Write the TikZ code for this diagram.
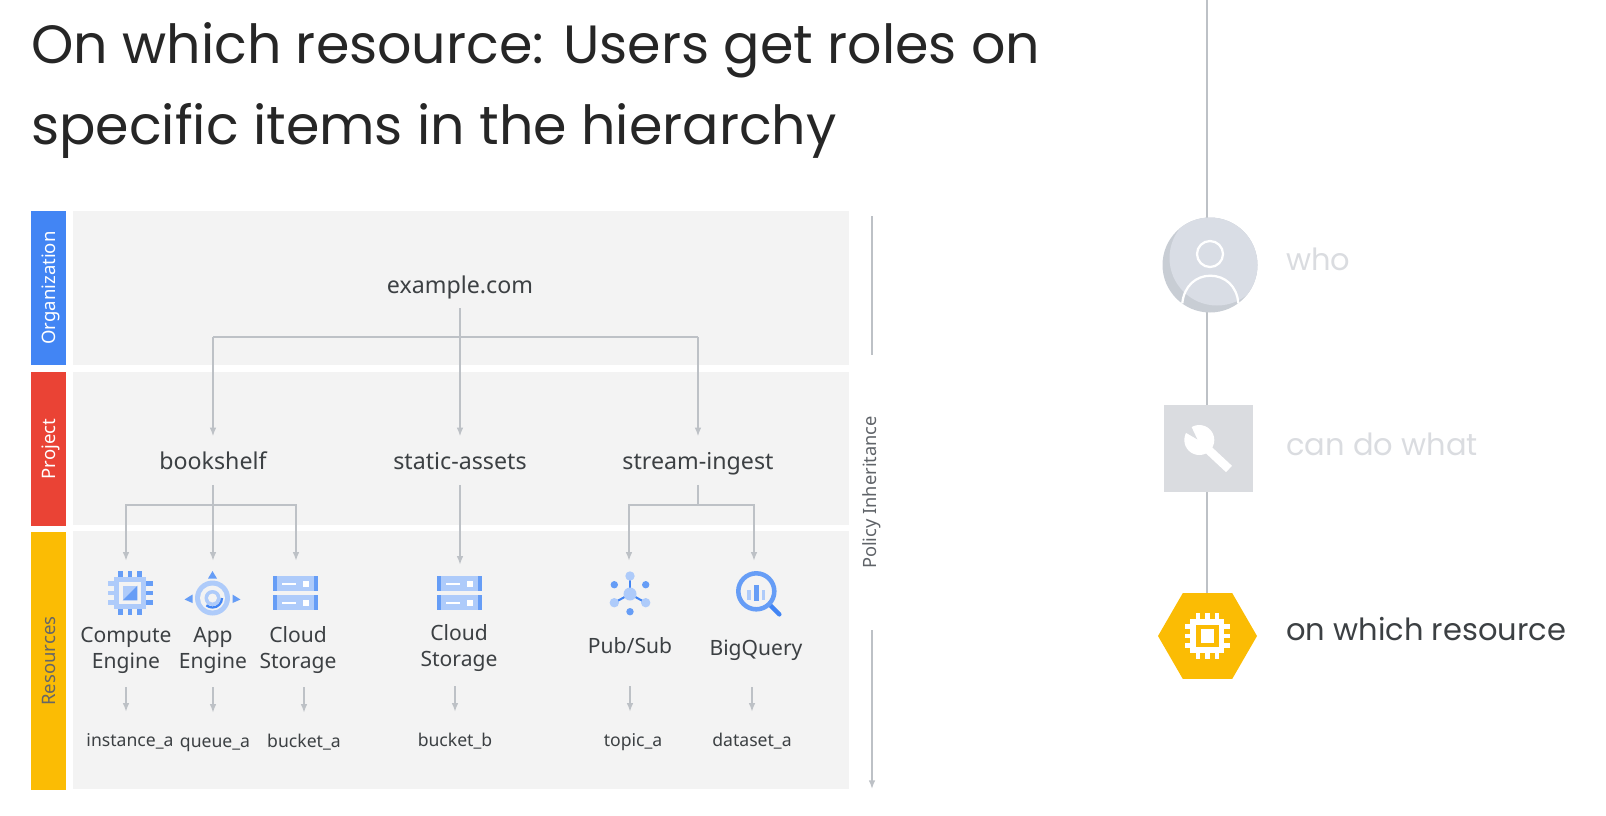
\documentclass[tikz,border=0pt]{standalone}
\usepackage{fontspec}
\setmainfont{Noto Sans}
\newfontfamily\headfont{Poppins}
\usetikzlibrary{arrows.meta,shapes.geometric}
\definecolor{linegray}{HTML}{BDC1C6}
\definecolor{panelgray}{HTML}{F3F3F3}
\definecolor{inkgray}{HTML}{3C4043}
\definecolor{softgray}{HTML}{5F6368}
\definecolor{fadegray}{HTML}{DADCE0}
\definecolor{whofill}{HTML}{D9DDE5}
\definecolor{whoshade}{HTML}{C8CDD4}
\definecolor{gblue}{HTML}{4285F4}
\definecolor{gred}{HTML}{EA4335}
\definecolor{gyellow}{HTML}{FBBC04}
\definecolor{iconlight}{HTML}{AECBFA}
\definecolor{iconmid}{HTML}{669DF6}
\newlength{\px}
\setlength{\px}{0.75pt}
\tikzset{
  band/.style={minimum width=154\px, minimum height=35\px, inner sep=0pt, rotate=90, text=white,
    text height=10pt, text depth=0pt, font=\fontsize{13.9}{17}\selectfont},
  panel/.style={fill=panelgray, minimum width=776\px, inner sep=0pt},
  flow/.style={draw=linegray, line width=1.1pt, -{Latex[length=6.5pt,width=5pt]}},
  rail/.style={draw=linegray, line width=1.1pt},
  projlabel/.style={inner sep=0pt, minimum height=48\px, text height=13pt, text depth=0pt, text=inkgray,
    font=\fontsize{17.4}{20}\selectfont},
  svclabel/.style={inner sep=0pt, minimum height=74\px, align=center, text=inkgray,
    font=\fontsize{15.8}{19.5}\selectfont},
  reslabel/.style={inner sep=0pt, minimum height=56\px, text height=10pt, text depth=0pt, text=inkgray,
    font=\fontsize{13.2}{15}\selectfont},
  iconbox/.style={inner sep=0pt, minimum width=56\px, minimum height=64\px},
  whatlabel/.style={anchor=west, inner sep=0pt, font=\headfont\fontsize{22.9}{28}\selectfont},
}
\newcommand{\storageicon}[2]{
  \begin{scope}[shift={(#1,#2)}]
    \foreach \rowy in {-17,2} {
      \fill[iconlight] (-23,\rowy) rectangle (22,\rowy+15);
      \fill[iconmid] (-23,\rowy) rectangle (-18.5,\rowy+15);
      \fill[iconmid] (18,\rowy) rectangle (22,\rowy+15);
      \fill[white] (-14,\rowy+6.5) rectangle (0,\rowy+8.5);
      \fill[white] (7,\rowy+4.5) rectangle (13.5,\rowy+11);
    }
  \end{scope}
}
\begin{document}
\begin{tikzpicture}[x=0.75pt, y=-0.75pt]
  \useasboundingbox (0,0) rectangle (1606,815);
  \node[anchor=west, inner sep=0pt, align=left, text=black!85, font=\headfont\fontsize{40.4}{60.75}\selectfont] (title) at (31,90)
    {On which resource: Users get roles on\\specific items in the hierarchy};

  % bands and panels
  \node[band, fill=gblue] (orgband) at (48.5,288) {Organization};
  \node[band, fill=gred] (projband) at (48.5,449) {Project};
  \node[band, fill=gyellow, minimum width=258\px, text=black!60] (resband) at (48.5,661) {Resources};
  \node[panel, minimum height=154\px] (orgpanel) at (461,288) {};
  \node[panel, minimum height=153\px] (projpanel) at (461,448.5) {};
  \node[panel, minimum height=258\px] (respanel) at (461,660) {};

  % tree labels
  \node[projlabel, minimum height=46\px] (example) at (460,285) {example.com};
  \node[projlabel] (bookshelf) at (213,460.5) {bookshelf};
  \node[projlabel] (static) at (460,460.5) {static-assets};
  \node[projlabel] (stream) at (698,460.5) {stream-ingest};
  \coordinate (orgbus) at (460,337);
  \coordinate (bookbus) at (213,505);
  \coordinate (streambus) at (698,505);

  \node[iconbox] (compute) at (126,593) {};
  \node[iconbox] (appengine) at (213,593) {};
  \node[iconbox] (storagea) at (296,593) {};
  \node[iconbox, minimum height=56\px] (storageb) at (460,593) {};
  \node[iconbox] (pubsub) at (629,593) {};
  \node[iconbox] (bigquery) at (754,593) {};

  \node[svclabel] (computetxt) at (126,650) {Compute\\Engine};
  \node[svclabel] (apptxt) at (213,650) {App\\Engine};
  \node[svclabel] (storagetxta) at (298,650) {Cloud\\Storage};
  \node[svclabel, minimum height=76\px] (storagetxtb) at (459,648) {Cloud\\Storage};
  \node[svclabel, minimum height=80\px] (pubsubtxt) at (630,646) {Pub/Sub};
  \node[svclabel] (bigquerytxt) at (756,650) {BigQuery};

  \node[reslabel] (instance) at (130,740) {instance\_a};
  \node[reslabel] (queue) at (215,741) {queue\_a};
  \node[reslabel] (bucketa) at (304,741) {bucket\_a};
  \node[reslabel] (bucketb) at (455,740) {bucket\_b};
  \node[reslabel] (topic) at (633,740) {topic\_a};
  \node[reslabel] (dataset) at (752,740) {dataset\_a};

  % hierarchy connectors
  \draw[rail] (example) -- (orgbus);
  \draw[rail] (orgbus) -- (orgbus -| stream);
  \draw[rail] (orgbus) -- (orgbus -| bookshelf);
  \draw[flow] (orgbus -| bookshelf) -- (bookshelf);
  \draw[flow] (orgbus) -- (static);
  \draw[flow] (orgbus -| stream) -- (stream);
  \draw[rail] (bookshelf) -- (bookbus);
  \draw[flow] (bookbus) -| (compute);
  \draw[flow] (bookbus) -- (appengine);
  \draw[flow] (bookbus) -| (storagea);
  \draw[flow] (static) -- (storageb);
  \draw[rail] (stream) -- (streambus);
  \draw[flow] (streambus) -| (pubsub);
  \draw[flow] (streambus) -| (bigquery);
  \draw[flow] (computetxt.south) -- (computetxt.south |- instance.north);
  \draw[flow] (apptxt.south) -- (apptxt.south |- queue.north);
  \draw[flow] (storagetxta.south -| bucketa) -- (bucketa.north);
  \draw[flow] (storagetxtb.south -| bucketb) -- (bucketb.north);
  \draw[flow] (pubsubtxt.south) -- (pubsubtxt.south |- topic.north);
  \draw[flow] (bigquerytxt.south -| dataset) -- (dataset.north);

  % compute engine icon
  \begin{scope}[shift={(130,593)}]
    \foreach \pin in {-9.5,0,9.5} {
      \fill[iconmid] (\pin-2.2,-22.5) rectangle (\pin+2.2,22);
      \fill[iconlight] (-22.5,\pin-2.2) rectangle (0,\pin+2.2);
      \fill[iconmid] (0,\pin-2.2) rectangle (22.5,\pin+2.2);
    }
    \fill[iconlight] (-16,-16) rectangle (16,16);
    \fill[panelgray] (-11.3,-11.3) rectangle (11.3,11.3);
    \fill[iconlight] (-7.3,-7.3) rectangle (7.3,7.3);
    \fill[iconmid] (7.3,-7.3) -- (7.3,7.3) -- (-7.3,7.3) -- cycle;
  \end{scope}

  % app engine icon
  \begin{scope}[shift={(212.5,598)}]
    \fill[iconlight] (0,0) circle (17.5);
    \fill[panelgray] (0,0) circle (12.5);
    \fill[iconlight] (0,0) circle (8);
    \fill[panelgray] (0,0) circle (4.5);
    \draw[gblue, line width=1.7pt] (9.5,0) arc (0:130:9.5);
    \fill[iconmid] (0,-27) -- (4.5,-19.5) -- (-4.5,-19.5) -- cycle;
    \fill[iconmid] (-28,1.5) -- (-20,-3.5) -- (-20,5) -- cycle;
    \fill[iconmid] (28,1.5) -- (20,-3.5) -- (20,5) -- cycle;
  \end{scope}

  \storageicon{295.5}{593}
  \storageicon{459.5}{593}

  % pub/sub icon
  \begin{scope}[shift={(630,594)}]
    \draw[gblue, line width=1.5pt] (0,0) -- (0,-18);
    \draw[gblue, line width=1.5pt] (0,0) -- (-15.7,8.7);
    \draw[gblue, line width=1.5pt] (0,0) -- (15.7,8.7);
    \fill[iconlight] (0,0) circle (6.5);
    \fill[iconlight] (0,-18) circle (4.7);
    \fill[iconlight] (-15.7,8.7) circle (4.7);
    \fill[iconlight] (15.7,8.7) circle (4.7);
    \fill[iconmid] (-15.7,-9.3) circle (3.7);
    \fill[iconmid] (15.7,-9.3) circle (3.7);
    \fill[iconmid] (0,17.7) circle (3.7);
  \end{scope}

  % bigquery icon
  \begin{scope}[shift={(756.3,591.3)}]
    \draw[gblue, line width=3.4pt, line cap=round] (13,13) -- (23,23);
    \draw[iconmid, line width=3.4pt, fill=panelgray] (0,0) circle (18);
    \fill[iconlight] (-9,-1.5) rectangle (-5.5,8.5);
    \fill[iconlight] (5.5,-1.5) rectangle (9,8.5);
    \fill[iconmid] (-2.7,-6.5) rectangle (2.7,9.5);
  \end{scope}

  % policy inheritance
  \node[inner sep=0pt, minimum width=275\px, rotate=90, text=softgray, font=\fontsize{13.7}{17}\selectfont] (policy) at (872,492.5) {Policy Inheritance};
  \coordinate (policytop) at (872,216);
  \coordinate (policybottom) at (872,789);
  \draw[rail] (policytop) -- (policy.east);
  \draw[flow] (policy.west) -- (policybottom);

  % who, can do what, on which resource
  \node[regular polygon, regular polygon sides=6, minimum size=99\px, inner sep=0pt, fill=gyellow] (hexnode) at (1207.5,636) {};
  \coordinate (timelinetop) at (1207,0);
  \draw[rail, line width=1.5pt] (timelinetop) -- (timelinetop |- hexnode.north);

  \node[circle, minimum size=95\px, inner sep=0pt, fill=whoshade] (whonode) at (1210,265) {};
  \begin{scope}
    \clip (1210,265) circle (47.5);
    \fill[whofill] (1217,258) circle (47.5);
  \end{scope}
  \draw[white, line width=1.7pt] (1210,254) circle (13);
  \draw[white, line width=1.7pt] (1182.3,303.3) .. controls (1184,286) and (1196,275.7) .. (1210.3,275.7) .. controls (1225,275.7) and (1237,286) .. (1238.3,303.3);

  \node[rectangle, minimum width=89\px, minimum height=87\px, inner sep=0pt, fill=fadegray] (whatnode) at (1208.5,448.5) {};
  \draw[white, line width=6.5pt] (1199,441) -- (1229,469);
  \fill[white] (1199.3,440) circle (15);
  \fill[fadegray] (1197.3,439.3) -- (1183,431) -- (1190,424) -- cycle;

  % chip on the hexagon
  \begin{scope}[shift={(1207.3,636)}]
    \foreach \pin in {-9.5,0,9.5} {
      \fill[white] (\pin-2.2,-22.7) rectangle (\pin+2.2,22.7);
      \fill[white] (-22.7,\pin-2.2) rectangle (22.7,\pin+2.2);
    }
    \fill[white] (-17,-17) rectangle (17,17);
    \fill[gyellow] (-11.3,-11.3) rectangle (11.3,11.3);
    \fill[white] (-6.7,-6.7) rectangle (6.7,6.7);
  \end{scope}

  \node[whatlabel, text=fadegray] (wholabel) at (1286,259) {who};
  \node[whatlabel, text=fadegray] (whatlabel) at (1286,444) {can do what};
  \node[whatlabel, text=inkgray] (reslabeltxt) at (1286,629) {on which resource};
\end{tikzpicture}
\end{document}
